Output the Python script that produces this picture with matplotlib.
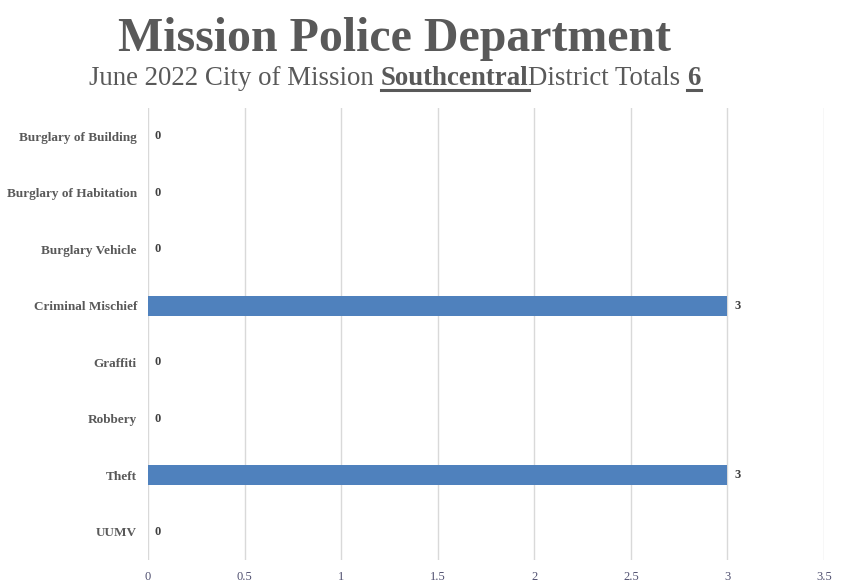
import matplotlib
matplotlib.use('Agg')
import matplotlib.pyplot as plt

# data
categories = ['Burglary of Building', 'Burglary of Habitation', 'Burglary Vehicle',
              'Criminal Mischief', 'Graffiti', 'Robbery', 'Theft', 'UUMV']
counts = [0, 0, 0, 3, 0, 0, 3, 0]
x_ticks = [0, 0.5, 1, 1.5, 2, 2.5, 3, 3.5]
x_tick_labels = ['0', '0.5', '1', '1.5', '2', '2.5', '3', '3.5']
title = 'Mission Police Department'
subtitle_parts = [('June 2022 City of Mission ', False),
                  ('Southcentral', True),
                  ('District Totals ', False),
                  ('6', True)]

plt.rcParams['font.family'] = ['Liberation Serif', 'DejaVu Serif']
gray = '#595959'
blue = '#4f81bd'

fig = plt.figure(figsize=(8.41, 5.84), dpi=100)
ax = fig.add_axes([148/841, 1 - 560/584, (824 - 148)/841, (560 - 108)/584])

ypos = list(range(len(categories)))
ax.barh(ypos, counts, height=0.36, color=blue, zorder=3)
ax.set_ylim(len(categories) - 0.5, -0.5)
ax.set_xlim(0, 3.5)
ax.set_yticks(ypos)
ax.set_yticklabels(categories, fontsize=9.5, fontweight='bold', color=gray)
ax.set_xticks(x_ticks)
ax.set_xticklabels(x_tick_labels, fontsize=9, color='#505070')
ax.tick_params(axis='both', length=0)
ax.tick_params(axis='y', pad=8)
ax.tick_params(axis='x', pad=8)
for s in ax.spines.values():
    s.set_visible(False)
ax.grid(axis='x', color='#d9d9d9', linewidth=1, zorder=0)

for y, v in zip(ypos, counts):
    ax.annotate(str(v), (v, y), xytext=(5, 0), textcoords='offset points',
                ha='left', va='center', fontsize=9, fontweight='bold', color='#404040')

fig.text(395/841, 1 - 51/584, title, ha='center', va='baseline',
         fontsize=34.5, fontweight='bold', color=gray)

# subtitle with bold, underlined pieces
fig.canvas.draw()
renderer = fig.canvas.get_renderer()
sub_size = 19.4
texts = []
widths = []
for s, b in subtitle_parts:
    t = fig.text(0, 0, s, fontsize=sub_size, fontweight='bold' if b else 'normal',
                 color=gray, ha='left', va='baseline')
    texts.append(t)
    widths.append(t.get_window_extent(renderer).width)
total = sum(widths)
x0 = 395 - total / 2
base = 584 - 85
for (s, b), t, w in zip(subtitle_parts, texts, widths):
    t.set_position((x0 / 841, base / 584))
    if b:
        fig.add_artist(plt.Line2D([x0 / 841, (x0 + w) / 841],
                                  [(base - 5) / 584, (base - 5) / 584],
                                  color=gray, linewidth=2.2))
    x0 += w

fig.savefig('out.png', dpi=100)
